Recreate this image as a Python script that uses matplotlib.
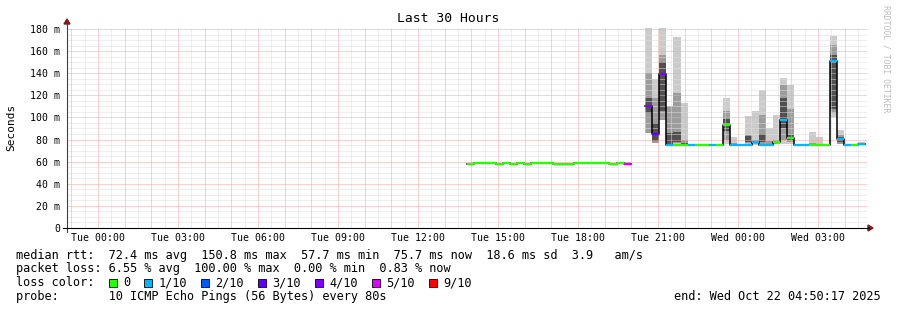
import numpy as np
import matplotlib.pyplot as plt
from matplotlib.patches import Rectangle, Polygon
from matplotlib.lines import Line2D

# 数据：时间以 Tue 00:00 为 0 点（小时），每列 16 分钟
t_start = 13.846
step_h = 16 / 60
nan = np.nan

median_ms = [57.7, 58.4, 58.4, 58.4, 57.7, 58.4, 57.7, 58.4, 57.7, 58.4, 58.4, 58.4,
             57.7, 57.7, 57.7, 58.4, 58.4, 58.4, 58.4, 58.4, 57.7, 58.4, 57.7,
             nan, nan,
             110.4, 84.7, 139.3, 75.5, 75.5, 75.5, 75.5, 75.5, 75.5, 75.5, 75.5,
             93.2, 75.5, 75.5, 75.5, 77.8, 75.5, 75.5, 77.5, 97.7, 81.2, 75.5,
             75.5, 75.5, 75.5, 75.5, 150.8, 80.2, 75.5, 75.5, 75.7]
loss_level = [0] * 22 + [5, 0, 0,
              4, 3, 4, 1, 0, 0, 1, 0, 0, 1, 0,
              0, 1, 1, 1, 1, 1, 1, 0, 1, 0, 1,
              1, 0, 0, 0, 1, 1, 1, 0, 1]

loss_labels = ['0', '1/10', '2/10', '3/10', '4/10', '5/10', '9/10']
loss_colors = ['#26ff00', '#00b8ff', '#0059ff', '#5e00ff', '#7e00ff', '#dd00ff', '#ff0000']

# smoke（ping 分布）
smoke_cols = [22, 25, 26, 27, 28, 29, 30, 36, 37, 39, 40, 41, 42, 43, 44, 45, 48, 49, 51, 52, 55]
smoke_lo = [57.7, 86, 76.5, 97.7, 75.5, 76, 75.5, 76, 75.5, 75.5, 75.5, 75.5, 76, 76, 76, 76, 75.5, 75.5, 100.7, 76, 75.5]
smoke_hi = [59.8, 181, 134.5, 181, 110, 172.5, 113.4, 117.6, 82, 101.3, 106, 124.8, 90, 102, 136, 129.3, 87, 82.6, 174, 88.6, 77.8]
mid_lo = [57.7, 86, 77, 97.7, 75.5, 77, 75.5, 80, 75.5, 77, 76, 76, 76, 76, 80, 78, 75.5, 75.5, 104, 76, 75.5]
mid_hi = [58.5, 140, 118, 156.5, 110, 121.8, 80, 106, 77, 84, 80, 102, 79, 80, 129.3, 108, 77, 76, 165.5, 84, 76]
dark_lo = [57.7, 104, 79, 106, 76, 78, 76, 88, 75.5, 78, 77, 78, 76, 77, 90, 80, 75.5, 75.5, 108, 78, 75.5]
dark_hi = [57.7, 118, 95, 150, 86, 87, 77, 99, 75.5, 83, 78, 85, 76, 78, 117.3, 84, 75.5, 75.5, 156.5, 82, 75.5]

xtick_hours = [0, 3, 6, 9, 12, 15, 18, 21, 24, 27]
xtick_labels = ['Tue 00:00', 'Tue 03:00', 'Tue 06:00', 'Tue 09:00', 'Tue 12:00',
                'Tue 15:00', 'Tue 18:00', 'Tue 21:00', 'Wed 00:00', 'Wed 03:00']
ytick_vals = [0, 20, 40, 60, 80, 100, 120, 140, 160, 180]
ytick_labels = ['0'] + [f'{v} m' for v in ytick_vals[1:]]

W, H = 897, 310
MONO = 'DejaVu Sans Mono'
fig = plt.figure(figsize=(W / 100, H / 100), dpi=100)


def fx(px):
    return px / W


def fy(py):
    return 1 - py / H


ax = fig.add_axes([fx(67), fy(228), 800 / W, 200 / H])
ax.set_xlim(-1.162, 28.838)
ax.set_ylim(0, 180.9)
for s in ax.spines.values():
    s.set_visible(False)

# 网格
grid_kw = dict(linestyle=(0, (1, 1)), lw=0.72, zorder=2)
for h in np.arange(-0.5, 29, 1.0):
    ax.axvline(h, color='#dedede', **grid_kw)
for v in np.arange(5, 181, 5):
    if v % 20:
        ax.axhline(v, color='#dedede', **grid_kw)
for h in np.arange(-1, 29, 1):
    ax.axvline(h, color='#f4a4a4', **grid_kw)
for v in ytick_vals[1:]:
    ax.axhline(v, color='#f4a4a4', **grid_kw)

t = t_start + step_h * np.arange(len(median_ms))
med = np.array(median_ms, dtype=float)
tc = t[smoke_cols]
lo, hi = np.array(smoke_lo), np.array(smoke_hi)
mlo, mhi = np.array(mid_lo), np.array(mid_hi)
dlo, dhi = np.array(dark_lo), np.array(dark_hi)
ax.bar(tc, hi - lo, bottom=lo, width=step_h, align='edge', color='#cbcbcb', lw=0, zorder=1)
ax.bar(tc, mhi - mlo, bottom=mlo, width=step_h, align='edge', color='#9c9c9c', lw=0, zorder=1)
ax.bar(tc, dhi - dlo, bottom=dlo, width=step_h, align='edge', color='#505050', lw=0, zorder=1)

# 中位数：黑色阶梯线 + 丢包颜色
tt = np.append(t, t[-1] + step_h)
mm = np.append(med, med[-1])
ax.step(tt, mm, where='post', color='black', lw=1.1, zorder=4)
for k in range(len(med)):
    if not np.isnan(med[k]):
        ax.hlines(med[k], t[k], t[k] + step_h, colors=loss_colors[loss_level[k]],
                  lw=1.7, zorder=5)

ax.set_xticks(xtick_hours)
ax.set_xticklabels(xtick_labels, family=MONO, fontsize=7.1)
ax.set_yticks(ytick_vals)
ax.set_yticklabels(ytick_labels, family=MONO, fontsize=7.1)
ax.tick_params(axis='x', length=0, pad=3.6)
ax.tick_params(axis='y', length=0, pad=5.0)

# 坐标轴线和箭头
fig.add_artist(Line2D([fx(67), fx(67)], [fy(232), fy(24)], color='#404040', lw=0.8))
fig.add_artist(Line2D([fx(63), fx(869)], [fy(228), fy(228)], color='black', lw=0.8))
arrow_c = '#7f1a1a'
fig.add_artist(Polygon([(fx(64), fy(24)), (fx(70), fy(24)), (fx(67), fy(19))],
                       closed=True, color=arrow_c, transform=fig.transFigure))
fig.add_artist(Polygon([(fx(868), fy(225)), (fx(868), fy(231)), (fx(873), fy(228))],
                       closed=True, color=arrow_c, transform=fig.transFigure))

fig.text(fx(448), fy(19), 'Last 30 Hours', family=MONO, fontsize=9.4,
         ha='center', va='center')
fig.text(fx(11), fy(127), 'Seconds', family=MONO, fontsize=8.0,
         rotation=90, ha='center', va='center')
fig.text(fx(886), fy(5), 'RRDTOOL / TOBI OETIKER', family=MONO, fontsize=5.9,
         rotation=270, ha='center', va='top', color='#bcbcbc')

# 图例文字
fs = 8.52
cw = fs / 72 * 100 * 0.602
x0 = 16
fig.text(fx(x0), fy(255), 'median rtt:  72.4 ms avg  150.8 ms max  57.7 ms min  '
         '75.7 ms now  18.6 ms sd  3.9   am/s', family=MONO, fontsize=fs, va='center')
fig.text(fx(x0), fy(268.5), 'packet loss: 6.55 % avg  100.00 % max  0.00 % min  0.83 % now',
         family=MONO, fontsize=fs, va='center')
fig.text(fx(x0), fy(282.5), 'loss color:', family=MONO, fontsize=fs, va='center')
pos = 13
for lab, col in zip(loss_labels, loss_colors):
    bx = x0 + pos * cw
    fig.add_artist(Rectangle((fx(bx), fy(286.5)), 8 / W, 8 / H, facecolor=col,
                             edgecolor='black', lw=0.6, transform=fig.transFigure))
    fig.text(fx(x0 + (pos + 2) * cw), fy(282.5), lab, family=MONO, fontsize=fs, va='center')
    pos += 2 + len(lab) + 2
fig.text(fx(x0), fy(296.5), 'probe:       10 ICMP Echo Pings (56 Bytes) every 80s',
         family=MONO, fontsize=fs, va='center')
fig.text(fx(881), fy(296.5), 'end: Wed Oct 22 04:50:17 2025', family=MONO,
         fontsize=fs, va='center', ha='right')

fig.savefig('out.png', dpi=100)
